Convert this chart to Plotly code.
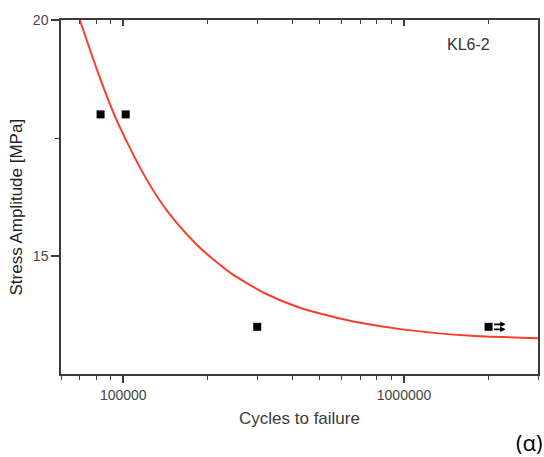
import plotly.graph_objects as go
import math

# Fitted S-N curve
curve_n = [70000, 82000, 94000, 106000, 118000, 135000, 155000, 182000, 208000,
           245000, 322000, 423000, 553000, 690000, 1000000, 1730000, 3000000]
curve_s = [20.0, 18.82, 17.92, 17.27, 16.74, 16.17, 15.70, 15.25, 14.94,
           14.61, 14.20, 13.91, 13.72, 13.59, 13.44, 13.31, 13.26]

# Test specimens
test_n = [83000, 102000, 300000, 2000000]
test_s = [18.0, 18.0, 13.5, 13.5]
runout_n = 2000000
runout_s = 13.5

x_ticks = [100000, 1000000]
x_ticktext = ["100000", "1000000"]
x_minor = [60000, 70000, 80000, 90000, 200000, 300000, 400000, 500000,
           600000, 700000, 800000, 900000, 2000000, 3000000]
y_ticks = [15, 20]
x_range = [math.log10(60000), math.log10(3000000)]
y_range = [12.5, 20]

axis_col = "#3a3a3a"
tick_font = dict(family="Liberation Sans, Arial, sans-serif", size=14, color="#454545")

fig = go.Figure()
fig.add_trace(go.Scatter(x=curve_n, y=curve_s, mode="lines",
                         line=dict(color="#fb3d2e", width=2, shape="spline", smoothing=0.6),
                         hoverinfo="skip", showlegend=False))
fig.add_trace(go.Scatter(x=test_n, y=test_s, mode="markers",
                         marker=dict(symbol="square", size=8, color="black"),
                         showlegend=False))
# invisible trace to carry the top (mirror) axis
fig.add_trace(go.Scatter(x=[curve_n[0]], y=[curve_s[0]], xaxis="x2", mode="markers",
                         marker=dict(opacity=0), hoverinfo="skip", showlegend=False))

arrow_common = dict(text="", x=math.log10(runout_n), y=runout_s, xref="x", yref="y",
                    showarrow=True, arrowhead=2, arrowsize=0.6, arrowwidth=1.8,
                    arrowcolor="black", ax=-13, ay=0, xshift=17)

fig.update_layout(
    width=544, height=457,
    margin=dict(l=61, r=4, t=19.5, b=82.5),
    paper_bgcolor="white", plot_bgcolor="white",
    xaxis=dict(type="log", range=x_range, tickmode="array", tickvals=x_ticks,
               ticktext=x_ticktext, ticks="outside", ticklen=7, tickwidth=1.5,
               tickcolor=axis_col, showline=True, linecolor=axis_col, linewidth=1.5,
               showgrid=False, zeroline=False, tickfont=tick_font,
               minor=dict(tickmode="array", tickvals=x_minor, ticks="outside",
                          ticklen=4, tickwidth=1.2, tickcolor=axis_col, showgrid=False)),
    xaxis2=dict(type="log", range=x_range, overlaying="x", side="top",
                tickmode="array", tickvals=x_ticks, ticks="inside", ticklen=6,
                tickwidth=1.5, tickcolor=axis_col, showticklabels=False,
                showline=True, linecolor=axis_col, linewidth=1.5, showgrid=False,
                zeroline=False,
                minor=dict(tickmode="array", tickvals=x_minor, ticks="inside",
                           ticklen=4, tickwidth=1.2, tickcolor=axis_col, showgrid=False)),
    yaxis=dict(range=y_range, tickmode="array", tickvals=y_ticks, ticks="outside",
               ticklen=8, tickwidth=1.5, tickcolor=axis_col, showline=True,
               linecolor=axis_col, linewidth=1.5, mirror=True, showgrid=False,
               zeroline=False, tickfont=tick_font,
               minor=dict(tickmode="array", tickvals=[17.5], ticks="outside",
                          ticklen=4, tickwidth=1.2, tickcolor=axis_col, showgrid=False)),
    annotations=[
        dict(text="Cycles to failure", xref="paper", yref="paper", x=0.5, y=-0.125,
             xanchor="center", yanchor="middle", showarrow=False,
             font=dict(family="Liberation Sans, Arial, sans-serif", size=17, color="#3a3a3a")),
        dict(text="Stress Amplitude [MPa]", xref="paper", yref="paper", x=-0.093, y=0.472,
             xanchor="center", yanchor="middle", showarrow=False, textangle=-90,
             font=dict(family="Liberation Sans, Arial, sans-serif", size=17, color="#222222")),
        dict(text="KL6-2", xref="paper", yref="paper", x=0.854, y=0.932,
             xanchor="center", yanchor="middle", showarrow=False,
             font=dict(family="Liberation Sans, Arial, sans-serif", size=16, color="#333333")),
        dict(text="(α)", xref="paper", yref="paper", x=1.0, y=-0.193, xshift=6,
             xanchor="right", yanchor="middle", showarrow=False,
             font=dict(family="Open Sans, Noto Sans, sans-serif", size=22, color="black")),
        dict(**arrow_common, yshift=2.5),
        dict(**arrow_common, yshift=-2.5),
    ],
)

fig.write_html("out.html")
